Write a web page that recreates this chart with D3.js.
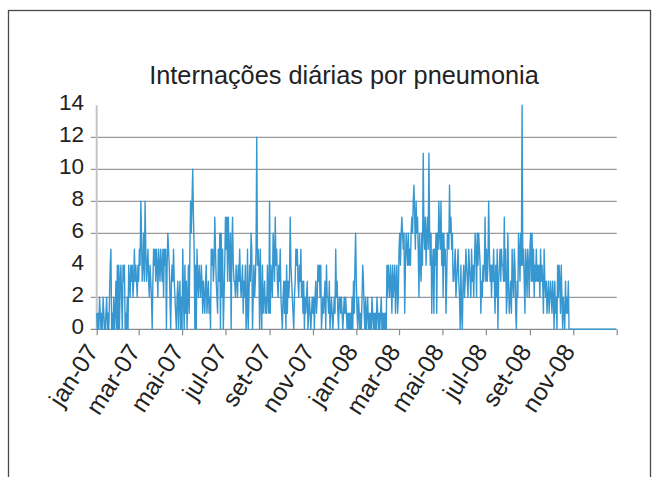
<!DOCTYPE html>
<html><head><meta charset="utf-8">
<script src="https://cdn.jsdelivr.net/npm/d3@7"></script>
<style>html,body{margin:0;padding:0;background:#fff;}svg{display:block}</style>
</head><body><svg id="chart" width="659" height="477"></svg>
<script>
// ---- data (daily admissions) ----
const chartTitle = "Internações diárias por pneumonia";
const firstDay = [2007, 0, 1];
const lastDayExclusive = [2009, 0, 1];

const jan07 = [1,0,1,0,2,1,0,1,0,2,1,0,0,1,2,0,1,0,2,4,5,0,1,0,2,0,1,3,0,4,0];
const feb07 = [4,0,3,4,2,0,4,3,4,0,1,0,2,0,4,3,2,4,3,4,2,3,5,3,4,3,2,4];
const mar07 = [3,5,4,8,6,3,4,6,3,8,5,3,4,5,3,2,4,3,2,0,3,5,4,5,3,5,4,2,5,4,3];
const apr07 = [5,4,3,5,2,5,4,5,0,4,6,5,4,2,0,3,4,3,5,3,2,1,0,2,3,0,2,3,0,2];
const may07 = [0,5,2,0,4,1,3,0,2,4,1,5,8,6,8,10,7,5,0,4,0,5,3,2,4,3,2,4,3,1,3];
const jun07 = [2,1,3,4,1,2,3,1,2,0,5,4,5,3,4,7,5,3,2,1,5,3,6,0,6,2,5,0,2,4];
const jul07 = [7,5,7,3,7,5,3,6,0,5,7,4,3,3,2,4,3,2,4,3,5,3,2,3,4,1,3,2,4,0,1];
const aug07 = [5,0,2,4,3,6,5,0,2,4,2,3,5,12,4,5,4,0,5,2,0,4,1,2,3,1,2,1,4,2,1];
const sep07 = [8,1,4,3,2,6,5,3,7,4,5,3,2,4,3,5,2,1,0,2,3,1,3,0,4,1,3,2,3,7];
const oct07 = [4,3,2,1,0,2,3,5,4,5,3,2,4,3,5,2,3,1,3,0,2,1,2,3,0,1,2,1,0,1,2];
const nov07 = [1,2,0,2,3,1,2,4,3,4,2,4,0,1,2,1,2,3,0,4,2,2,1,3,0,1,2,1,0,1];
const dec07 = [2,1,5,2,3,1,0,2,2,1,2,1,0,1,2,1,2,1,0,1,0,1,0,1,0,2,0,3,1,4,6];
const jan08 = [3,1,0,2,1,0,1,0,2,4,3,1,0,2,0,1,2,0,1,0,1,0,2,1,0,1,0,1,0,2,1];
const feb08 = [0,1,0,1,2,0,1,0,1,0,1,0,4,2,4,3,2,4,3,1,4,2,3,4,1,3,4,1,2];
const mar08 = [5,6,4,6,7,6,5,6,1,4,6,5,4,6,4,5,4,6,7,6,8,9,7,5,8,6,7,5,2,6,4];
const apr08 = [3,6,4,11,6,5,7,4,6,7,5,11,6,4,6,1,4,5,1,5,4,6,1,6,5,8,6,5,8,4];
const may08 = [6,2,6,4,5,1,3,6,6,5,9,6,7,5,6,3,3,4,5,2,3,4,5,3,2,0,4,1,0,3,4];
const jun08 = [2,3,5,4,3,2,5,4,3,2,5,3,4,2,4,6,5,2,6,4,6,5,4,1,3,2,4,3,4,7];
const jul08 = [3,5,3,4,8,5,3,4,2,4,3,5,3,1,4,2,5,0,3,4,5,3,5,4,4,3,7,3,5,1,2];
const aug08 = [6,3,1,2,3,1,5,3,2,5,4,1,0,3,2,6,5,3,6,4,14,4,5,3,1,5,4,2,5,4,2];
const sep08 = [5,6,3,6,3,5,2,4,3,5,3,4,3,4,2,5,3,4,3,1,5,3,2,3,1,2,3,1,2,3];
const oct08 = [2,1,3,2,0,3,1,2,0,4,2,4,3,1,4,2,0,2,1,0,3,1,2,1,3,0,0,0,0,0,0];
const nov08 = [0,0,0,0,0,0,0,0,0,0,0,0,0,0,0,0,0,0,0,0,0,0,0,0,0,0,0,0,0,0];
const dec08 = [0,0,0,0,0,0,0,0,0,0,0,0,0,0,0,0,0,0,0,0,0,0,0,0,0,0,0,0,0,0,0];

const tickLabels = ["jan-07","mar-07","mai-07","jul-07","set-07","nov-07",
                    "jan-08","mar-08","mai-08","jul-08","set-08","nov-08",""];
const yTickValues = [0,2,4,6,8,10,12,14];
const yGridValues = [2,6,8,10,12];   // the reference shows no line at 4 or 14

// ---- build ----
const months = [jan07,feb07,mar07,apr07,may07,jun07,jul07,aug07,sep07,oct07,nov07,dec07,
                jan08,feb08,mar08,apr08,may08,jun08,jul08,aug08,sep08,oct08,nov08,dec08];
const series = months.flat().map((v,i)=>({
  date: new Date(Date.UTC(firstDay[0], firstDay[1], firstDay[2] + i)), value: v }));
const tickDates = tickLabels.map((_,i)=>new Date(Date.UTC(2007, i*2, 1)));

const svg = d3.select("#chart");
const x = d3.scaleUtc()
  .domain([new Date(Date.UTC(...firstDay)), new Date(Date.UTC(...lastDayExclusive))])
  .range([96.7, 616.7]);
const y = d3.scaleLinear().domain([0,14]).range([329.3, 105.3]);
const font = "Liberation Sans, Arial, sans-serif";

// outer frame
svg.append("rect").attr("x",8.5).attr("y",10.5).attr("width",642).attr("height",520)
  .attr("fill","none").attr("stroke","#4a4a4a").attr("stroke-width",1.3);

// title
svg.append("text").attr("x",344).attr("y",84).attr("text-anchor","middle")
  .attr("font-family",font).attr("font-size",25.3)
  .attr("fill","#222").text(chartTitle);

// gridlines
svg.append("g").selectAll("line").data(yGridValues).join("line")
  .attr("x1",90.7).attr("x2",616.7).attr("y1",d=>y(d)).attr("y2",d=>y(d))
  .attr("stroke","#9a9a9a").attr("stroke-width",1.2);

// y axis line
svg.append("line").attr("x1",96.7).attr("x2",96.7).attr("y1",y(14)).attr("y2",y(0))
  .attr("stroke","#c4c4c4").attr("stroke-width",2);

// y labels
svg.append("g").selectAll("text").data(yTickValues).join("text")
  .attr("x",84).attr("y",d=>y(d)+4.5).attr("text-anchor","end")
  .attr("font-family",font).attr("font-size",22.5)
  .attr("fill","#222").text(d=>d);

// x axis
const xAxis = d3.axisBottom(x).tickValues(tickDates).tickSize(6).tickSizeOuter(0)
  .tickFormat((d,i)=>tickLabels[i]);
const gx = svg.append("g").attr("transform",`translate(0,${y(0)})`).call(xAxis);
gx.select(".domain").attr("stroke","#8a8a8a").attr("stroke-width",1.3)
  .attr("d", `M90.7,0H616.7`);
gx.selectAll(".tick line").attr("stroke","#8a8a8a").attr("stroke-width",1.2);
gx.selectAll(".tick text")
  .attr("font-family",font).attr("font-size",24.5)
  .attr("fill","#222").attr("text-anchor","end")
  .attr("dy",null).attr("y",null)
  .attr("transform","translate(2,22) rotate(-57)");

// data line
const line = d3.line().x(d=>x(d.date)).y(d=>y(d.value));
svg.append("path").datum(series).attr("d",line).attr("fill","none")
  .attr("stroke","#3797d0").attr("stroke-width",1.4).attr("stroke-linejoin","round");
</script></body></html>
